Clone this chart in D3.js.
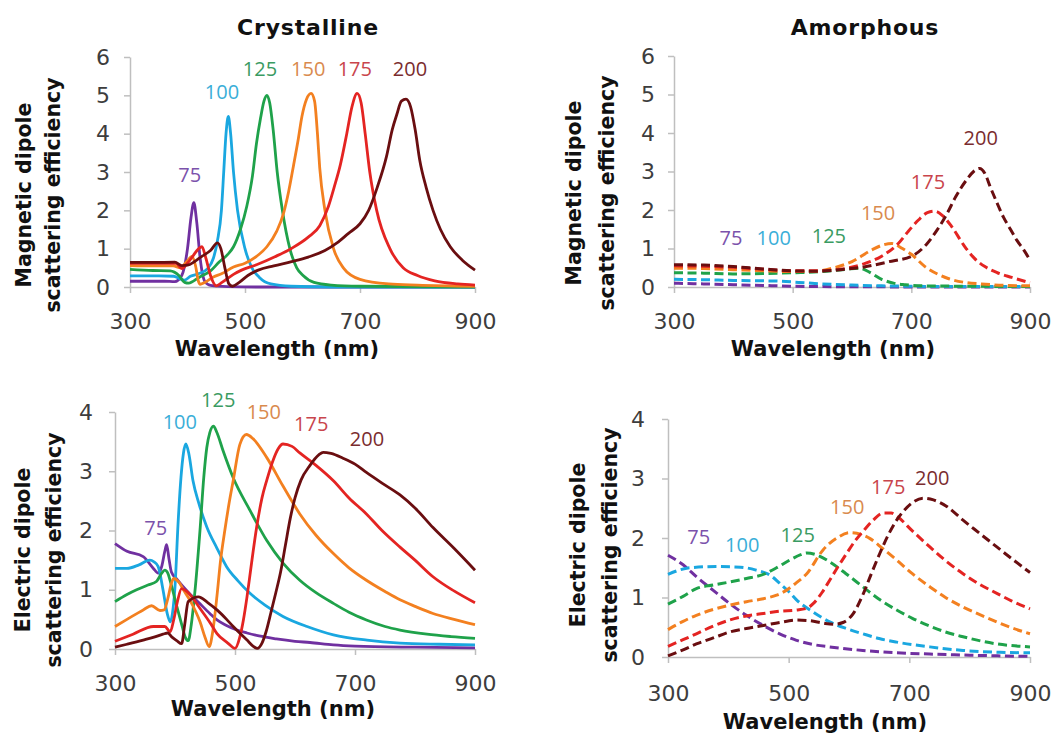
<!DOCTYPE html>
<html>
<head>
<meta charset="utf-8">
<script src="https://cdn.jsdelivr.net/npm/d3@7"></script>
<style>
  html, body { margin: 0; padding: 0; background: #ffffff; }
  svg { display: block; }
</style>
</head>
<body>
<svg id="chart" width="1053" height="734"></svg>
<script>
// ---------------- DATA ----------------
const sizes = ["75", "100", "125", "150", "175", "200"];
const lineColors = ["#7030a0", "#1aa7e0", "#1fa24a", "#f38020", "#e42422", "#6a0e10"];
const labelColors = ["#7b52ab", "#3aaed8", "#3a9b62", "#d98a4e", "#c9454c", "#7a2c2e"];
const xTicks = [300, 500, 700, 900];
const yTicksMag = [0, 1, 2, 3, 4, 5, 6];
const yTicksEl = [0, 1, 2, 3, 4];

// Crystalline, magnetic dipole
const cm75 = [[300,0.15],[360,0.15],[378,0.14],[390,0.3],[400,1.0],[406,1.8],[411,2.2],[416,1.7],[422,0.75],[430,0.15],[440,0.04],[470,0.01],[520,0],[700,0],[900,0]];
const cm100 = [[300,0.29],[350,0.29],[376,0.28],[386,0.22],[395,0.18],[405,0.28],[420,0.35],[435,0.48],[445,0.75],[452,1.2],[459,2.0],[463,3.0],[467,4.0],[471,4.45],[475,4.0],[480,3.0],[487,2.0],[500,1.0],[512,0.5],[525,0.25],[545,0.08],[580,0.02],[650,0],[900,0]];
const cm125 = [[300,0.46],[340,0.43],[370,0.42],[385,0.3],[395,0.12],[402,0.1],[420,0.25],[440,0.42],[455,0.65],[470,0.85],[480,1.05],[492,1.5],[503,2.1],[513,2.9],[520,3.75],[527,4.4],[533,4.85],[538,5.0],[543,4.8],[549,4.1],[556,3.0],[565,2.0],[578,1.0],[590,0.5],[601,0.3],[620,0.12],[650,0.05],[700,0.02],[900,0]];
const cm150 = [[300,0.56],[340,0.55],[375,0.55],[388,0.5],[398,0.65],[408,0.8],[414,0.55],[419,0.15],[422,0.07],[430,0.12],[445,0.26],[460,0.35],[480,0.52],[500,0.62],[520,0.8],[538,1.05],[555,1.45],[567,1.92],[576,2.5],[584,3.14],[592,3.8],[599,4.45],[607,4.9],[615,5.05],[621,4.85],[626,4.0],[630,3.1],[639,2.0],[654,1.0],[671,0.5],[700,0.2],[750,0.08],[800,0.05],[900,0.02]];
const cm175 = [[300,0.62],[340,0.62],[380,0.62],[390,0.48],[400,0.62],[410,0.82],[418,0.98],[425,1.05],[432,0.75],[440,0.3],[450,0.03],[460,0.12],[480,0.33],[494,0.44],[520,0.58],[552,0.79],[580,1.0],[610,1.3],[630,1.6],[645,2.1],[655,2.6],[666,3.2],[677,4.0],[686,4.7],[695,5.05],[702,4.8],[709,4.0],[717,3.0],[729,2.0],[752,1.0],[775,0.5],[800,0.3],[830,0.16],[870,0.08],[900,0.05]];
const cm200 = [[300,0.64],[340,0.64],[378,0.65],[390,0.56],[400,0.57],[412,0.66],[425,0.8],[440,0.95],[452,1.15],[458,1.0],[465,0.5],[472,0.08],[478,0.02],[490,0.12],[505,0.3],[523,0.44],[550,0.55],[581,0.66],[610,0.78],[639,0.95],[660,1.15],[680,1.4],[700,1.65],[715,2.0],[730,2.6],[746,3.4],[756,4.1],[764,4.5],[772,4.85],[780,4.9],[788,4.7],[796,4.1],[804,3.3],[815,2.6],[827,2.0],[840,1.5],[857,1.05],[878,0.7],[900,0.44]];

// Amorphous, magnetic dipole
const am75 = [[300,0.1],[350,0.08],[400,0.06],[450,0.04],[500,0.02],[550,0.01],[600,0.005],[900,0]];
const am100 = [[300,0.2],[350,0.19],[400,0.17],[450,0.16],[480,0.15],[510,0.12],[550,0.08],[600,0.05],[650,0.03],[700,0.02],[800,0.01],[900,0.01]];
const am125 = [[300,0.37],[350,0.36],[400,0.34],[450,0.35],[500,0.37],[550,0.4],[590,0.46],[612,0.49],[630,0.38],[650,0.2],[670,0.1],[690,0.06],[720,0.03],[800,0.02],[900,0.01]];
const am150 = [[300,0.49],[350,0.48],[400,0.45],[450,0.42],[500,0.4],[540,0.41],[570,0.5],[600,0.66],[633,0.96],[650,1.08],[667,1.13],[685,1.0],[700,0.85],[723,0.53],[745,0.33],[762,0.22],[790,0.12],[818,0.08],[860,0.04],[900,0.03]];
const am175 = [[300,0.55],[350,0.54],[400,0.51],[450,0.46],[500,0.42],[540,0.42],[580,0.46],[620,0.6],[650,0.8],[678,1.13],[695,1.45],[712,1.74],[727,1.93],[740,1.97],[753,1.85],[768,1.57],[790,1.05],[806,0.75],[824,0.53],[845,0.37],[869,0.25],[900,0.11]];
const am200 = [[300,0.58],[350,0.57],[400,0.53],[450,0.47],[500,0.42],[540,0.41],[580,0.45],[620,0.52],[660,0.65],[703,0.82],[725,1.1],[743,1.47],[760,1.9],[775,2.35],[793,2.78],[805,3.0],[815,3.08],[824,2.95],[833,2.6],[844,2.2],[855,1.82],[867,1.5],[878,1.21],[890,0.95],[900,0.7]];

// Crystalline, electric dipole
const ce75 = [[300,1.78],[320,1.65],[347,1.56],[364,1.36],[372,1.28],[378,1.4],[383,1.65],[386,1.76],[390,1.52],[394,1.3],[403,1.18],[420,0.98],[440,0.78],[458,0.6],[470,0.49],[485,0.4],[503,0.32],[520,0.27],[540,0.22],[569,0.17],[600,0.13],[625,0.11],[664,0.07],[700,0.05],[800,0.03],[900,0.02]];
const ce100 = [[300,1.36],[320,1.36],[340,1.42],[358,1.5],[365,1.47],[372,1.39],[380,1.0],[387,0.6],[392,0.46],[397,0.7],[400,1.05],[405,2.1],[410,2.9],[414,3.3],[418,3.46],[423,3.3],[430,2.84],[440,2.45],[453,2.06],[470,1.7],[486,1.39],[505,1.15],[525,0.94],[550,0.74],[580,0.55],[620,0.38],[664,0.24],[720,0.15],[775,0.1],[840,0.08],[900,0.07]];
const ce125 = [[300,0.8],[320,0.92],[336,1.0],[355,1.08],[369,1.14],[378,1.28],[383,1.33],[388,1.28],[392,1.15],[403,0.72],[412,0.38],[417,0.2],[422,0.14],[427,0.4],[433,0.95],[442,2.05],[448,2.9],[453,3.4],[458,3.65],[464,3.76],[470,3.65],[480,3.35],[497,2.89],[525,2.34],[553,1.83],[580,1.45],[608,1.16],[635,0.95],[664,0.77],[690,0.62],[719,0.49],[750,0.38],[775,0.32],[820,0.25],[860,0.21],[900,0.18]];
const ce150 = [[300,0.38],[320,0.5],[347,0.66],[361,0.73],[375,0.65],[382,0.66],[388,0.85],[394,1.11],[398,1.19],[407,1.12],[414,1.0],[425,0.82],[442,0.45],[450,0.2],[457,0.04],[463,0.3],[470,0.9],[476,1.5],[483,2.0],[490,2.45],[497,2.84],[508,3.45],[519,3.62],[530,3.55],[553,3.23],[580,2.75],[608,2.28],[635,1.92],[664,1.61],[690,1.37],[719,1.16],[750,0.97],[775,0.83],[800,0.72],[830,0.6],[865,0.5],[900,0.41]];
const ce175 = [[300,0.13],[330,0.25],[364,0.38],[383,0.38],[392,0.29],[398,0.5],[404,0.8],[411,1.02],[420,0.97],[442,0.68],[460,0.42],[470,0.26],[488,0.1],[500,0.01],[508,0.2],[514,0.49],[520,0.88],[526,1.33],[536,2.05],[545,2.55],[553,2.85],[564,3.2],[572,3.38],[580,3.46],[595,3.42],[608,3.31],[635,3.1],[664,2.84],[690,2.55],[719,2.28],[745,2.0],[775,1.72],[800,1.5],[830,1.22],[865,0.98],[900,0.78]];
const ce200 = [[300,0.03],[320,0.08],[347,0.15],[365,0.2],[380,0.25],[388,0.27],[395,0.2],[403,0.14],[411,0.09],[416,0.4],[422,0.8],[439,0.88],[455,0.78],[470,0.66],[486,0.5],[497,0.38],[510,0.25],[520,0.15],[530,0.05],[537,0.01],[545,0.1],[552,0.3],[560,0.62],[568,0.95],[576,1.3],[584,1.75],[592,2.2],[600,2.55],[610,2.85],[625,3.1],[640,3.28],[647,3.32],[660,3.3],[680,3.22],[700,3.12],[719,2.98],[745,2.8],[775,2.6],[800,2.38],[830,2.05],[865,1.7],[900,1.33]];

// Amorphous, electric dipole
const ae75 = [[300,1.71],[325,1.55],[347,1.35],[375,1.12],[402,0.9],[430,0.7],[458,0.53],[485,0.39],[513,0.28],[540,0.21],[568,0.17],[623,0.11],[679,0.07],[734,0.05],[800,0.03],[900,0.01]];
const ae100 = [[300,1.39],[336,1.5],[380,1.52],[420,1.51],[446,1.46],[470,1.37],[485,1.24],[500,1.1],[513,0.96],[540,0.76],[568,0.59],[595,0.48],[623,0.39],[650,0.31],[679,0.25],[734,0.17],[789,0.11],[850,0.08],[900,0.07]];
const ae125 = [[300,0.89],[325,1.02],[347,1.15],[375,1.21],[402,1.26],[430,1.32],[458,1.39],[480,1.5],[502,1.63],[520,1.72],[530,1.75],[545,1.72],[568,1.6],[595,1.4],[623,1.18],[650,0.97],[679,0.79],[705,0.65],[734,0.52],[760,0.42],[789,0.34],[845,0.22],[900,0.17]];
const ae150 = [[300,0.46],[325,0.6],[347,0.7],[375,0.8],[402,0.87],[430,0.93],[458,0.98],[480,1.04],[496,1.12],[513,1.25],[530,1.4],[557,1.8],[580,2.0],[601,2.09],[620,2.06],[635,1.99],[655,1.83],[679,1.63],[705,1.4],[734,1.18],[760,1.0],[789,0.84],[815,0.72],[845,0.59],[870,0.49],[900,0.39]];
const ae175 = [[300,0.18],[325,0.29],[347,0.39],[375,0.52],[402,0.62],[430,0.69],[458,0.73],[485,0.77],[513,0.79],[530,0.82],[541,0.9],[555,1.08],[568,1.29],[582,1.52],[596,1.74],[610,1.95],[624,2.12],[640,2.3],[657,2.42],[670,2.42],[680,2.36],[705,2.12],[734,1.85],[760,1.62],[789,1.4],[815,1.23],[845,1.07],[870,0.94],[900,0.81]];
const ae200 = [[300,0.02],[325,0.12],[347,0.22],[375,0.32],[402,0.42],[430,0.48],[458,0.53],[485,0.58],[513,0.62],[535,0.61],[557,0.57],[575,0.55],[590,0.58],[607,0.73],[624,1.07],[637,1.4],[651,1.74],[665,2.05],[679,2.3],[692,2.47],[706,2.6],[723,2.67],[740,2.64],[762,2.53],[789,2.3],[815,2.09],[845,1.85],[870,1.65],[900,1.42]];

// Series label anchors (wavelength, value)
const cmLabels = [[404,2.92],[460,5.09],[526,5.69],[610,5.69],[691,5.69],[787,5.69]];
const amLabels = [[396,1.27],[468,1.27],[561,1.32],[644,1.92],[728,2.73],[817,3.87]];
const ceLabels = [[368,2.04],[408,3.83],[472,4.2],[548,4.0],[627,3.8],[720,3.54]];
const aeLabels = [[351,2.02],[423,1.88],[515,2.05],[597,2.52],[665,2.86],[738,3.01]];

// ---------------- LAYOUT ----------------
const panels = [
  { series: [cm75, cm100, cm125, cm150, cm175, cm200], labels: cmLabels, dashed: false,
    x0: 130, x1: 475, yb: 287, yt: 57, ymax: 6, yTicks: yTicksMag,
    title: "Crystalline", titleX: 308, titleY: 35,
    ylab: ["Magnetic dipole", "scattering efficiency"], ylabX: [31, 60], ylabY: 195,
    xlabX: 277, xlabY: 356, yPad: 20, xPad: 26 },
  { series: [am75, am100, am125, am150, am175, am200], labels: amLabels, dashed: true,
    x0: 674, x1: 1030, yb: 287, yt: 56, ymax: 6, yTicks: yTicksMag,
    title: "Amorphous", titleX: 865, titleY: 35,
    ylab: ["Magnetic dipole", "scattering efficiency"], ylabX: [581, 614], ylabY: 193,
    xlabX: 833, xlabY: 356, yPad: 19, xPad: 26 },
  { series: [ce75, ce100, ce125, ce150, ce175, ce200], labels: ceLabels, dashed: false,
    x0: 115, x1: 475, yb: 649, yt: 412, ymax: 4, yTicks: yTicksEl,
    title: null,
    ylab: ["Electric dipole", "scattering efficiency"], ylabX: [30, 61], ylabY: 550,
    xlabX: 273, xlabY: 716, yPad: 22, xPad: 26 },
  { series: [ae75, ae100, ae125, ae150, ae175, ae200], labels: aeLabels, dashed: true,
    x0: 668, x1: 1030, yb: 657, yt: 419, ymax: 4, yTicks: yTicksEl,
    title: null,
    ylab: ["Electric dipole", "scattering efficiency"], ylabX: [585, 617], ylabY: 545,
    xlabX: 825, xlabY: 729, yPad: 23, xPad: 28 }
];

const svg = d3.select("#chart");
const tickFont = "'DejaVu Sans', sans-serif";
const boldFont = "'DejaVu Sans', sans-serif";

panels.forEach(p => {
  const x = d3.scaleLinear().domain([300, 900]).range([p.x0, p.x1]);
  const y = d3.scaleLinear().domain([0, p.ymax]).range([p.yb, p.yt]);
  const g = svg.append("g");

  // axes
  const ax = g.append("g").attr("transform", `translate(0,${p.yb})`)
    .call(d3.axisBottom(x).tickValues(xTicks).tickFormat(d3.format("d"))
      .tickSize(6).tickPadding(p.xPad - 6).tickSizeOuter(0));
  const ay = g.append("g").attr("transform", `translate(${p.x0},0)`)
    .call(d3.axisLeft(y).tickValues(p.yTicks).tickFormat(d3.format("d"))
      .tickSize(6).tickPadding(p.yPad - 6).tickSizeOuter(0));
  [ax, ay].forEach(a => {
    a.select(".domain").attr("stroke", "#bfbfbf").attr("stroke-width", 1.5);
    a.selectAll(".tick line").attr("stroke", "#bfbfbf").attr("stroke-width", 1.5);
    a.selectAll(".tick text").attr("fill", "#3d3d3d")
      .style("font-family", tickFont).style("font-size", "22px");
  });

  // lines
  const line = d3.line().x(d => x(d[0])).y(d => y(d[1])).curve(d3.curveMonotoneX);
  p.series.forEach((s, i) => {
    g.append("path").datum(s)
      .attr("d", line)
      .attr("fill", "none")
      .attr("stroke", lineColors[i])
      .attr("stroke-width", p.dashed ? 3 : 2.8)
      .attr("stroke-dasharray", p.dashed ? "9,4.5" : null)
      .attr("stroke-linejoin", "round");
  });

  // series labels
  p.labels.forEach((l, i) => {
    g.append("text")
      .attr("x", x(l[0])).attr("y", y(l[1]))
      .attr("dy", "0.36em")
      .attr("text-anchor", "middle")
      .attr("fill", labelColors[i])
      .style("font-family", "'Open Sans', sans-serif")
      .style("font-size", "20px")
      .text(sizes[i]);
  });

  // title
  if (p.title) {
    g.append("text").attr("x", p.titleX).attr("y", p.titleY)
      .attr("text-anchor", "middle")
      .style("font-family", boldFont).style("font-weight", "bold").style("font-size", "22px")
      .style("letter-spacing", "0.8px")
      .attr("fill", "#111").text(p.title);
  }

  // x label
  g.append("text").attr("x", p.xlabX).attr("y", p.xlabY)
    .attr("text-anchor", "middle")
    .style("font-family", boldFont).style("font-weight", "bold").style("font-size", "21px")
    .attr("fill", "#111").text("Wavelength (nm)");

  // y label (two lines)
  p.ylab.forEach((t, k) => {
    g.append("text")
      .attr("transform", `translate(${p.ylabX[k]},${p.ylabY}) rotate(-90)`)
      .attr("text-anchor", "middle")
      .style("font-family", boldFont).style("font-weight", "bold").style("font-size", "20.5px")
      .attr("fill", "#111").text(t);
  });
});
</script>
</body>
</html>
